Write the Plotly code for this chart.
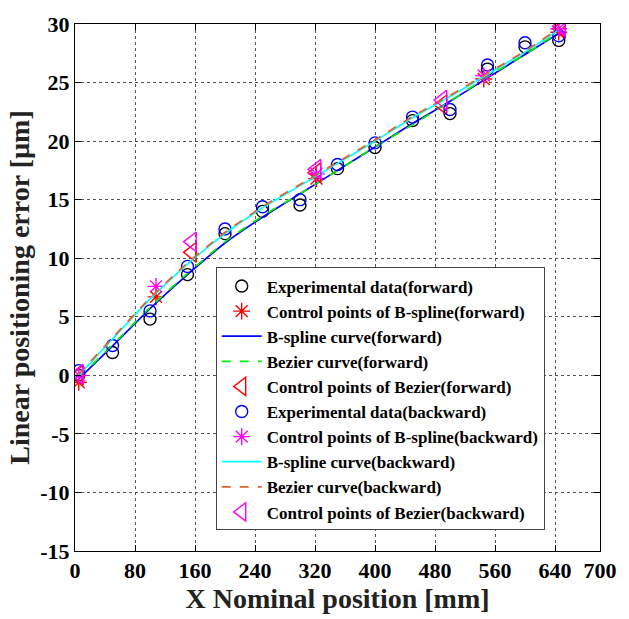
import plotly.graph_objects as go

# Experimental data
x_exp = [5, 50, 100, 150, 200, 250, 300, 350, 400, 450, 500, 550, 600, 645]
y_exp_fwd = [0.0, 1.95, 4.8, 8.6, 12.1, 14.0, 14.55, 17.65, 19.45, 21.75, 22.35, 26.15, 28.05, 28.6]
y_exp_bwd = [0.4, 2.55, 5.5, 9.3, 12.5, 14.4, 15.0, 18.0, 19.85, 22.05, 22.7, 26.5, 28.4, 29.0]

# B-spline control points
x_bsp_cp = [5, 108, 322, 545, 645]
y_bsp_cp_fwd = [-0.6, 6.7, 16.8, 25.3, 29.3]
y_bsp_cp_bwd = [0.0, 7.6, 17.2, 25.6, 29.6]

# Bezier control points
x_bez_cp = [5, 156, 322, 490, 648]
y_bez_cp_fwd = [0.0, 10.5, 17.3, 23.1, 29.6]
y_bez_cp_bwd = [0.1, 11.4, 17.6, 23.5, 29.8]

# Fitted curves
x_curve = [5, 50, 100, 150, 200, 250, 300, 350, 400, 450, 500, 550, 600, 645]
y_bspline_fwd = [-0.3, 2.5, 5.7, 8.6, 11.3, 13.5, 15.5, 17.5, 19.5, 21.5, 23.4, 25.4, 27.4, 29.2]
y_bezier_fwd = [-0.2, 2.6, 5.8, 8.7, 11.4, 13.6, 15.5, 17.5, 19.5, 21.4, 23.4, 25.5, 27.4, 29.3]
y_bspline_bwd = [0.0, 3.1, 6.5, 9.5, 12.1, 14.3, 16.2, 18.1, 20.0, 22.0, 23.8, 25.7, 27.6, 29.5]
y_bezier_bwd = [0.1, 3.2, 6.6, 9.6, 12.2, 14.4, 16.3, 18.2, 20.1, 22.1, 23.9, 25.8, 27.7, 29.6]

x_tickvals = [0, 80, 160, 240, 320, 400, 480, 560, 640, 700]
x_ticktext = ["0", "80", "160", "240", "320", "400", "480", "560", "640", "700"]
y_tickvals = [-15, -10, -5, 0, 5, 10, 15, 20, 25, 30]
y_ticktext = ["-15", "-10", "-5", "0", "5", "10", "15", "20", "25", "30"]

FONT = "Liberation Serif"

fig = go.Figure()

def markers(x, y, name, symbol, color, size=11):
    fig.add_trace(go.Scatter(
        x=x, y=y, mode="markers", name=name,
        marker=dict(symbol=symbol, size=size, color=color,
                    line=dict(color=color, width=1.4)),
    ))

def line(x, y, name, color, dash):
    fig.add_trace(go.Scatter(
        x=x, y=y, mode="lines", name=name,
        line=dict(color=color, width=1.7, dash=dash, shape="spline", smoothing=0.6),
    ))

markers(x_exp, y_exp_fwd, "Experimental data(forward)", "circle-open", "black", 12)
markers(x_bsp_cp, y_bsp_cp_fwd, "Control points of B-spline(forward)", "asterisk-open", "red", 14)
line(x_curve, y_bspline_fwd, "B-spline curve(forward)", "#0000ff", "solid")
line(x_curve, y_bezier_fwd, "Bezier curve(forward)", "#00ee00", "dash")
markers(x_bez_cp, y_bez_cp_fwd, "Control points of Bezier(forward)", "triangle-left-open", "red", 17)
markers(x_exp, y_exp_bwd, "Experimental data(backward)", "circle-open", "blue", 12)
markers(x_bsp_cp, y_bsp_cp_bwd, "Control points of B-spline(backward)", "asterisk-open", "magenta", 14)
line(x_curve, y_bspline_bwd, "B-spline curve(backward)", "cyan", "solid")
line(x_curve, y_bezier_bwd, "Bezier curve(backward)", "#e0602a", "dash")
markers(x_bez_cp, y_bez_cp_bwd, "Control points of Bezier(backward)", "triangle-left-open", "magenta", 17)

axis_common = dict(
    showline=True, linecolor="black", linewidth=1, mirror="ticks",
    ticks="inside", ticklen=6, tickcolor="black",
    showgrid=True, gridcolor="#555555", griddash="dot", gridwidth=1,
    zeroline=False,
    tickfont=dict(family=FONT, size=22, color="black", weight="bold"),
)

fig.update_xaxes(range=[0, 700], tickvals=x_tickvals, ticktext=x_ticktext,
                 title=dict(text="X Nominal position [mm]", standoff=4,
                            font=dict(family=FONT, size=28, color="#222222", weight="bold")),
                 **axis_common)
fig.update_yaxes(range=[-15, 30], tickvals=y_tickvals, ticktext=y_ticktext,
                 title=dict(text="Linear positioning error [µm]", standoff=2,
                            font=dict(family=FONT, size=28, color="#222222", weight="bold")),
                 **axis_common)

fig.update_layout(
    width=629, height=619,
    margin=dict(l=75, r=20, t=16, b=67),
    paper_bgcolor="white", plot_bgcolor="white",
    font=dict(family=FONT, color="black"),
    legend=dict(
        x=0.268, y=0.538, xanchor="left", yanchor="top",
        bgcolor="white", bordercolor="#444444", borderwidth=1,
        font=dict(family=FONT, size=17, color="black", weight="bold"),
        tracegroupgap=0, itemwidth=40,
        entrywidth=310, entrywidthmode="pixels",
    ),
)

fig.write_html("out.html")
